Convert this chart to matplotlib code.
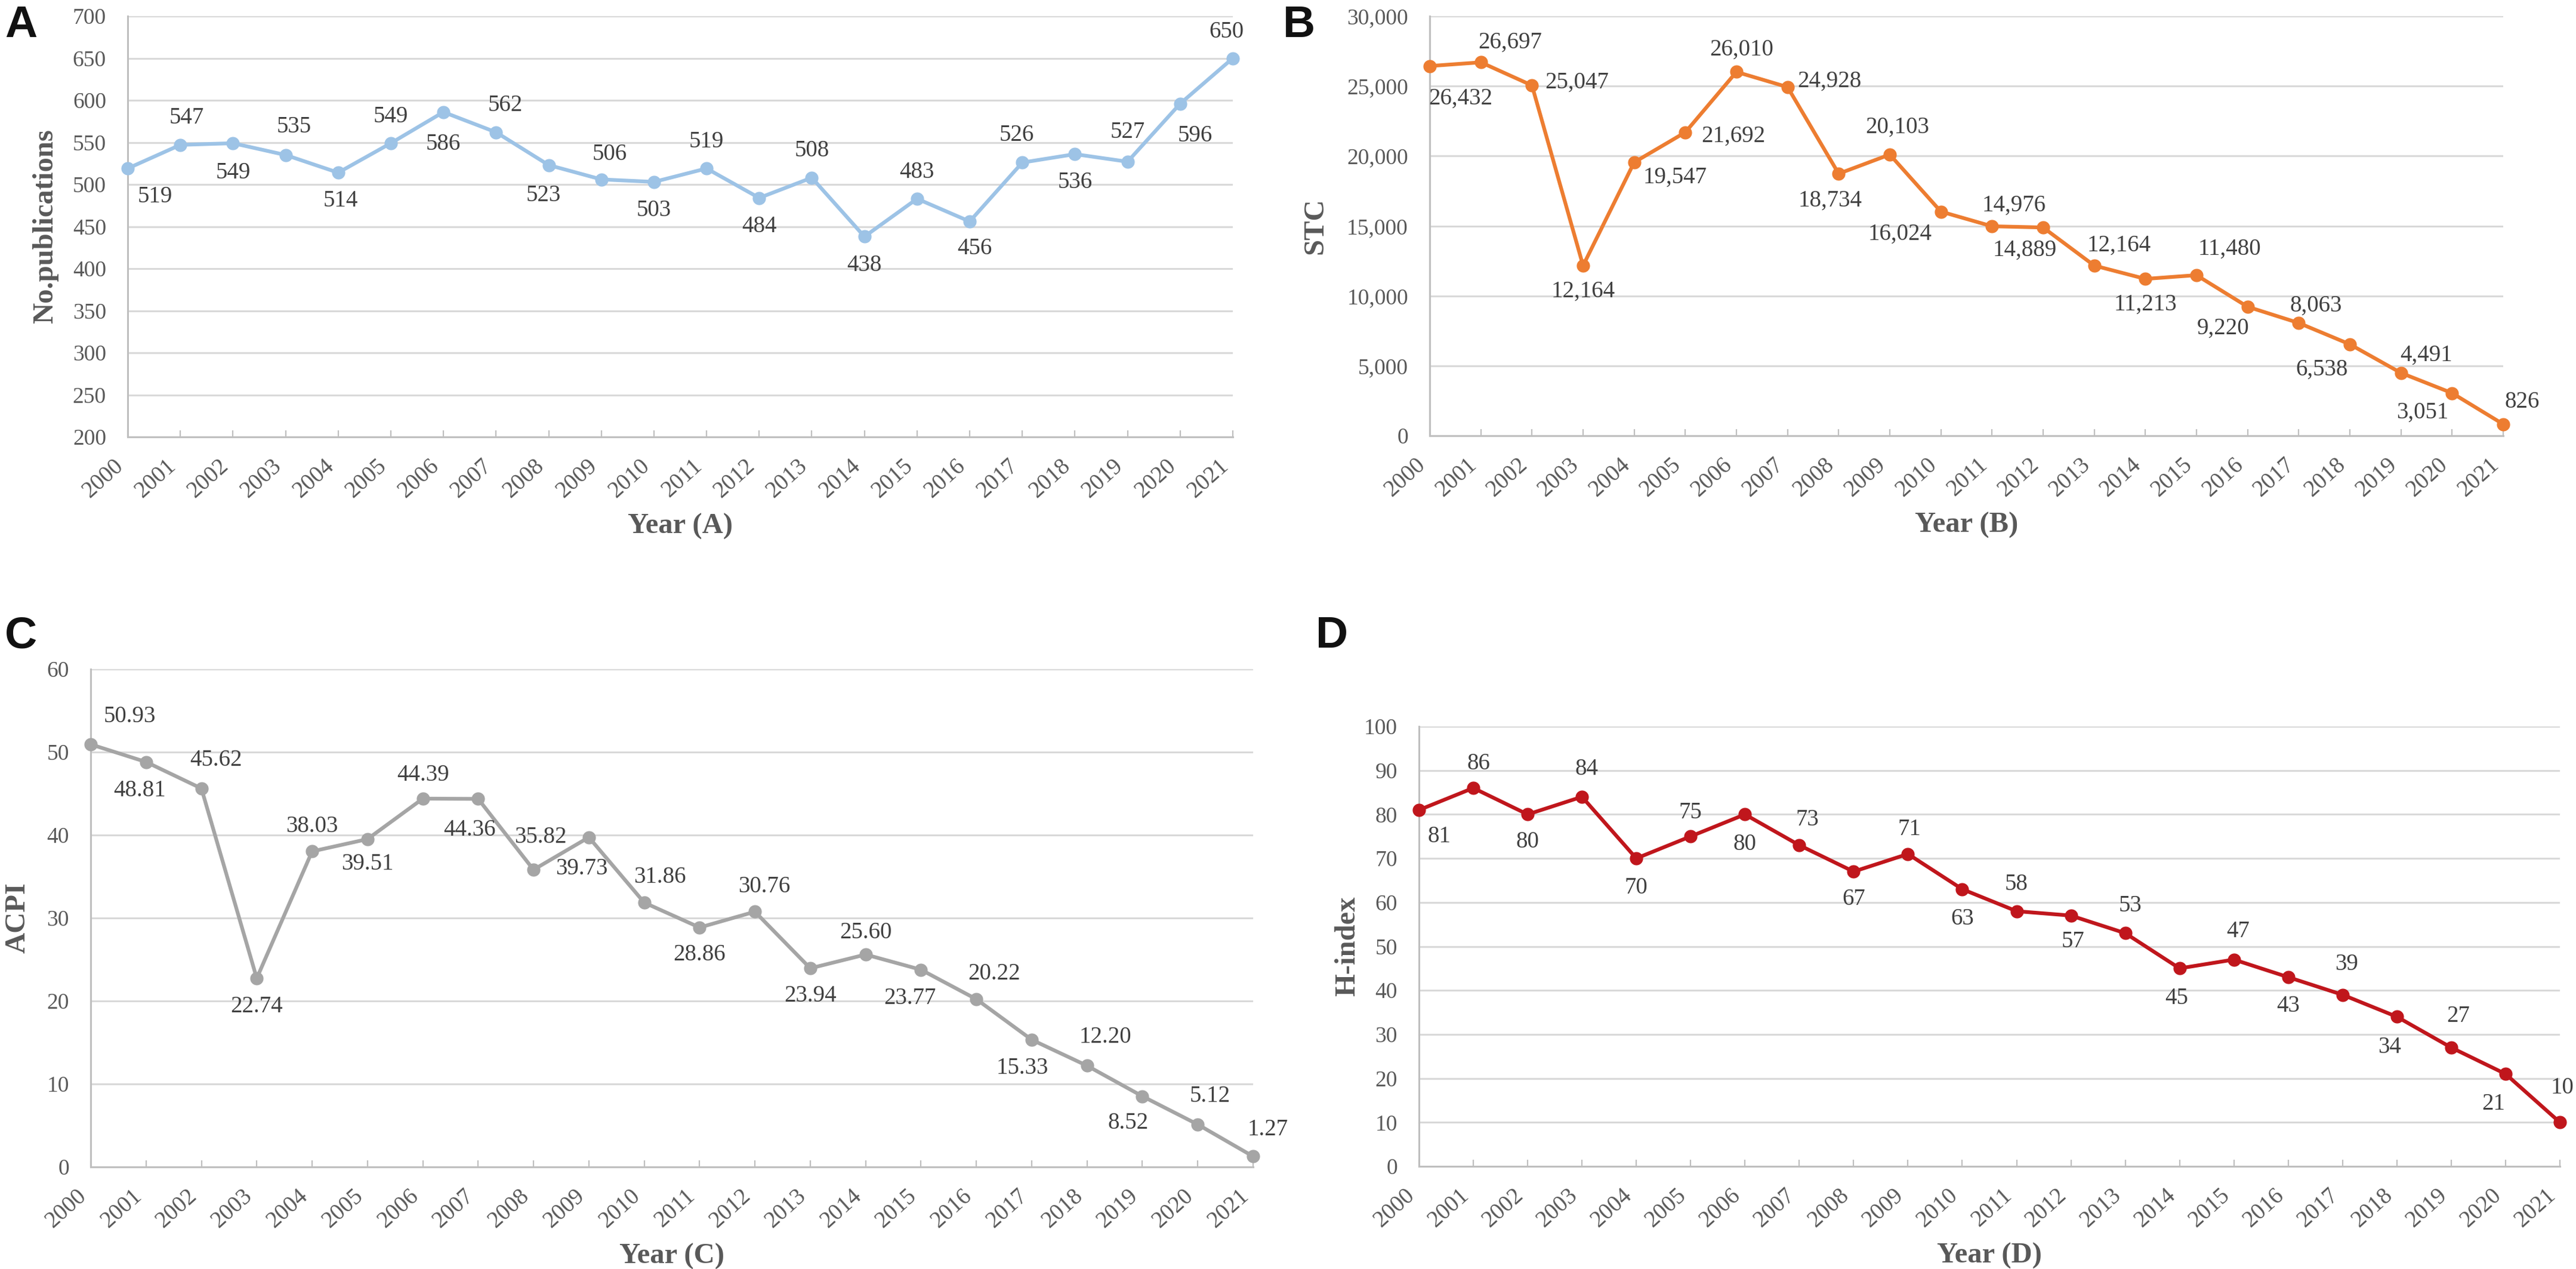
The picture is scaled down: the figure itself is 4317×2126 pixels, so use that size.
import matplotlib
matplotlib.use("Agg")
import matplotlib.pyplot as plt
from matplotlib.ticker import FuncFormatter

plt.rcParams['font.family'] = ['Liberation Serif', 'DejaVu Serif']

# ---- data -------------------------------------------------------------
years = [str(y) for y in range(2000, 2022)]

publications = [519, 547, 549, 535, 514, 549, 586, 562, 523, 506, 503,
                519, 484, 508, 438, 483, 456, 526, 536, 527, 596, 650]

stc = [26432, 26697, 25047, 12164, 19547, 21692, 26010, 24928, 18734, 20103, 16024,
       14976, 14889, 12164, 11213, 11480, 9220, 8063, 6538, 4491, 3051, 826]

acpi = [50.93, 48.81, 45.62, 22.74, 38.03, 39.51, 44.39, 44.36, 35.82, 39.73, 31.86,
        28.86, 30.76, 23.94, 25.60, 23.77, 20.22, 15.33, 12.20, 8.52, 5.12, 1.27]

h_index = [81, 86, 80, 84, 70, 75, 80, 73, 67, 71, 63,
           58, 57, 53, 45, 47, 43, 39, 34, 27, 21, 10]

# ---- label placement (pixel offsets from each point, +y = down) -------
offs_a = [(46, 47), (11, -45), (0, 50), (14, -47), (4, 47), (0, -44), (0, 54), (15, -45),
          (-9, 51), (14, -42), (0, 48), (0, -45), (0, 48), (0, -45), (0, 48), (0, -44),
          (8, 45), (-9, -46), (0, 47), (0, -49), (25, 54), (-11, -44)]
offs_b = [(52, 55), (49, -33), (75, -5), (0, 43), (68, 25), (80, 6), (9, -37), (70, -10),
          (-14, 45), (13, -46), (-69, 38), (37, -35), (-31, 38), (42, -34), (0, 43), (55, -44),
          (-41, 36), (29, -29), (-47, 42), (42, -30), (-50, 33), (32, -37)]
offs_c = [(65, -47), (-11, 48), (24, -47), (0, 48), (0, -42), (0, 42), (0, -39), (-14, 52),
          (12, -55), (-12, 53), (26, -43), (0, 46), (16, -42), (0, 46), (0, -37), (-18, 48),
          (30, -42), (-16, 48), (31, -48), (-24, 45), (20, -47), (25, -45)]
offs_d = [(34, 44), (9, -41), (0, 46), (8, -46), (0, 49), (0, -40), (0, 50), (14, -42),
          (0, 46), (3, -41), (0, 50), (0, -45), (3, 44), (8, -46), (-5, 50), (7, -47),
          (0, 48), (7, -51), (-12, 51), (12, -53), (-20, 50), (4, -58)]

W, H = 4317, 2126
DPI = 100
PX = 72 / DPI  # pixel -> points

GRID = '#D9D9D9'
SPINE = '#BFBFBF'
TICK_TXT = '#595959'
LABEL_TXT = '#404040'


def px_box(x0, y0, x1, y1):
    """Axes rectangle from pixel corners (top-left origin)."""
    return [x0 / W, 1 - y1 / H, (x1 - x0) / W, (y1 - y0) / H]


def draw_panel(fig, box, values, color, offsets, fmt, yticks, ylabel, xlabel,
               ylabel_px, letter, letter_px):
    ax = fig.add_axes(px_box(*box))
    x = list(range(len(years)))
    ax.plot(x, values, color=color, lw=4.5, marker='o', markersize=15,
            zorder=3, clip_on=False)

    for xi, v, (dx, dy) in zip(x, values, offsets):
        ax.annotate(fmt(v), (xi, v), xytext=(dx * PX, -dy * PX),
                    textcoords='offset points', ha='center', va='center',
                    fontsize=28, color=LABEL_TXT, zorder=4, annotation_clip=False)

    ax.set_xlim(0, len(years) - 1)
    ax.set_ylim(yticks[0], yticks[-1])
    ax.set_yticks(yticks)
    ax.yaxis.set_major_formatter(FuncFormatter(lambda v, p: f"{int(v):,}"))
    ax.set_xticks(x)
    ax.set_xticklabels(years, rotation=42, ha='right', va='top')

    ax.grid(axis='y', color=GRID, lw=2.2, zorder=0)
    ax.set_axisbelow(True)
    for s in ('top', 'right'):
        ax.spines[s].set_visible(False)
    for s in ('left', 'bottom'):
        ax.spines[s].set_color(SPINE)
        ax.spines[s].set_linewidth(2.2)

    ax.tick_params(axis='x', direction='in', length=8, width=1.6, color=SPINE,
                   labelsize=28, labelcolor=TICK_TXT, pad=22)
    ax.tick_params(axis='y', length=0, labelsize=27, labelcolor=TICK_TXT, pad=26)

    x0, y0, x1, y1 = box
    ax.text(0.5, -150 / (y1 - y0), xlabel, transform=ax.transAxes, ha='center',
            va='center', fontsize=35, fontweight='bold', color=TICK_TXT)
    ax.text((ylabel_px - x0) / (x1 - x0), 0.5, ylabel, transform=ax.transAxes,
            rotation=90, ha='center', va='center', fontsize=35,
            fontweight='bold', color=TICK_TXT)

    fig.text(letter_px[0] / W, 1 - letter_px[1] / H, letter, ha='left', va='top',
             fontsize=54, fontweight='bold', family=['Liberation Sans', 'DejaVu Sans'],
             color='#111111')
    return ax


fig = plt.figure(figsize=(W / DPI, H / DPI), dpi=DPI, facecolor='white')

draw_panel(fig, (214, 27, 2066, 732), publications, '#9DC3E6', offs_a,
           lambda v: f"{v}", list(range(200, 701, 50)), 'No.publications', 'Year (A)',
           76, 'A', (8, 8))
draw_panel(fig, (2396, 27, 4195, 730), stc, '#ED7D31', offs_b,
           lambda v: f"{v:,}", list(range(0, 30001, 5000)), 'STC', 'Year (B)',
           2204, 'B', (2150, 8))
draw_panel(fig, (152, 1121, 2100, 1955), acpi, '#A5A5A5', offs_c,
           lambda v: f"{v:.2f}", list(range(0, 61, 10)), 'ACPI', 'Year (C)',
           30, 'C', (8, 1031))
draw_panel(fig, (2378, 1217, 4290, 1954), h_index, '#C0161C', offs_d,
           lambda v: f"{v}", list(range(0, 101, 10)), 'H-index', 'Year (D)',
           2258, 'D', (2205, 1031))

fig.savefig('out.png', dpi=DPI, facecolor='white')
